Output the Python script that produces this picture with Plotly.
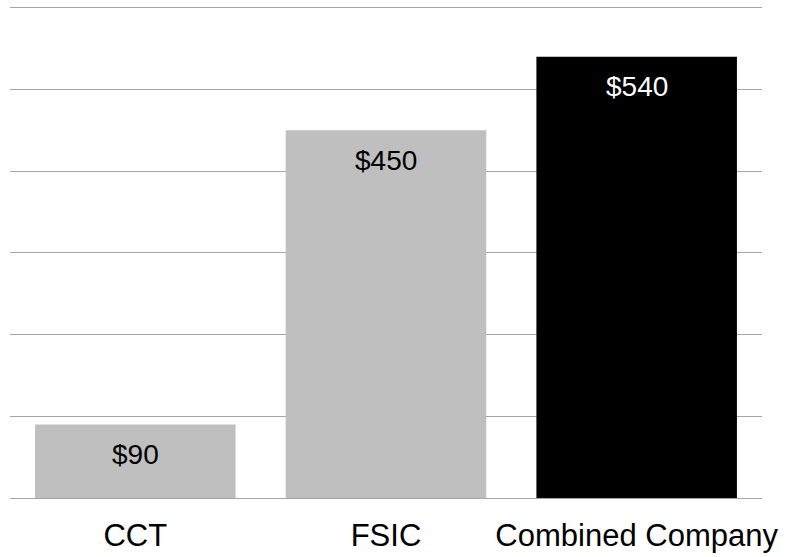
import plotly.graph_objects as go

categories = ["CCT", "FSIC", "Combined Company"]
values = [90, 450, 540]
labels = ["$90", "$450", "$540"]
bar_colors = ["#bfbfbf", "#bfbfbf", "#000000"]
label_colors = ["#000000", "#000000", "#ffffff"]

FONT = "Liberation Sans, Arial, sans-serif"

fig = go.Figure()
fig.add_trace(go.Bar(
    x=categories, y=values,
    marker=dict(color=bar_colors, line=dict(width=0)),
    hoverinfo="skip",
))

for c, v, t, col in zip(categories, values, labels, label_colors):
    fig.add_annotation(
        x=c, y=v, text=t, showarrow=False,
        yanchor="middle", yshift=-30,
        font=dict(family=FONT, size=28, color=col),
    )

fig.update_layout(
    width=788, height=557,
    margin=dict(l=10, r=26, t=6, b=59, autoexpand=False),
    paper_bgcolor="white", plot_bgcolor="white",
    bargap=0.2, showlegend=False,
    font=dict(family=FONT, color="#000000"),
    xaxis=dict(
        tickfont=dict(size=31, color="#000000"),
        showgrid=False, showline=False, ticks="",
        ticklabelstandoff=16,
    ),
    yaxis=dict(
        range=[0, 602], tickvals=[0, 100, 200, 300, 400, 500, 600],
        showticklabels=False,
        showgrid=True, gridcolor="#a6a6a6", gridwidth=1,
        zeroline=True, zerolinecolor="#a6a6a6", zerolinewidth=1,
        showline=False, ticks="",
    ),
)

fig.write_html(
    "out.html",
    config={"displayModeBar": False},
    post_script="document.body.style.margin='0';document.body.style.overflow='hidden';",
)
